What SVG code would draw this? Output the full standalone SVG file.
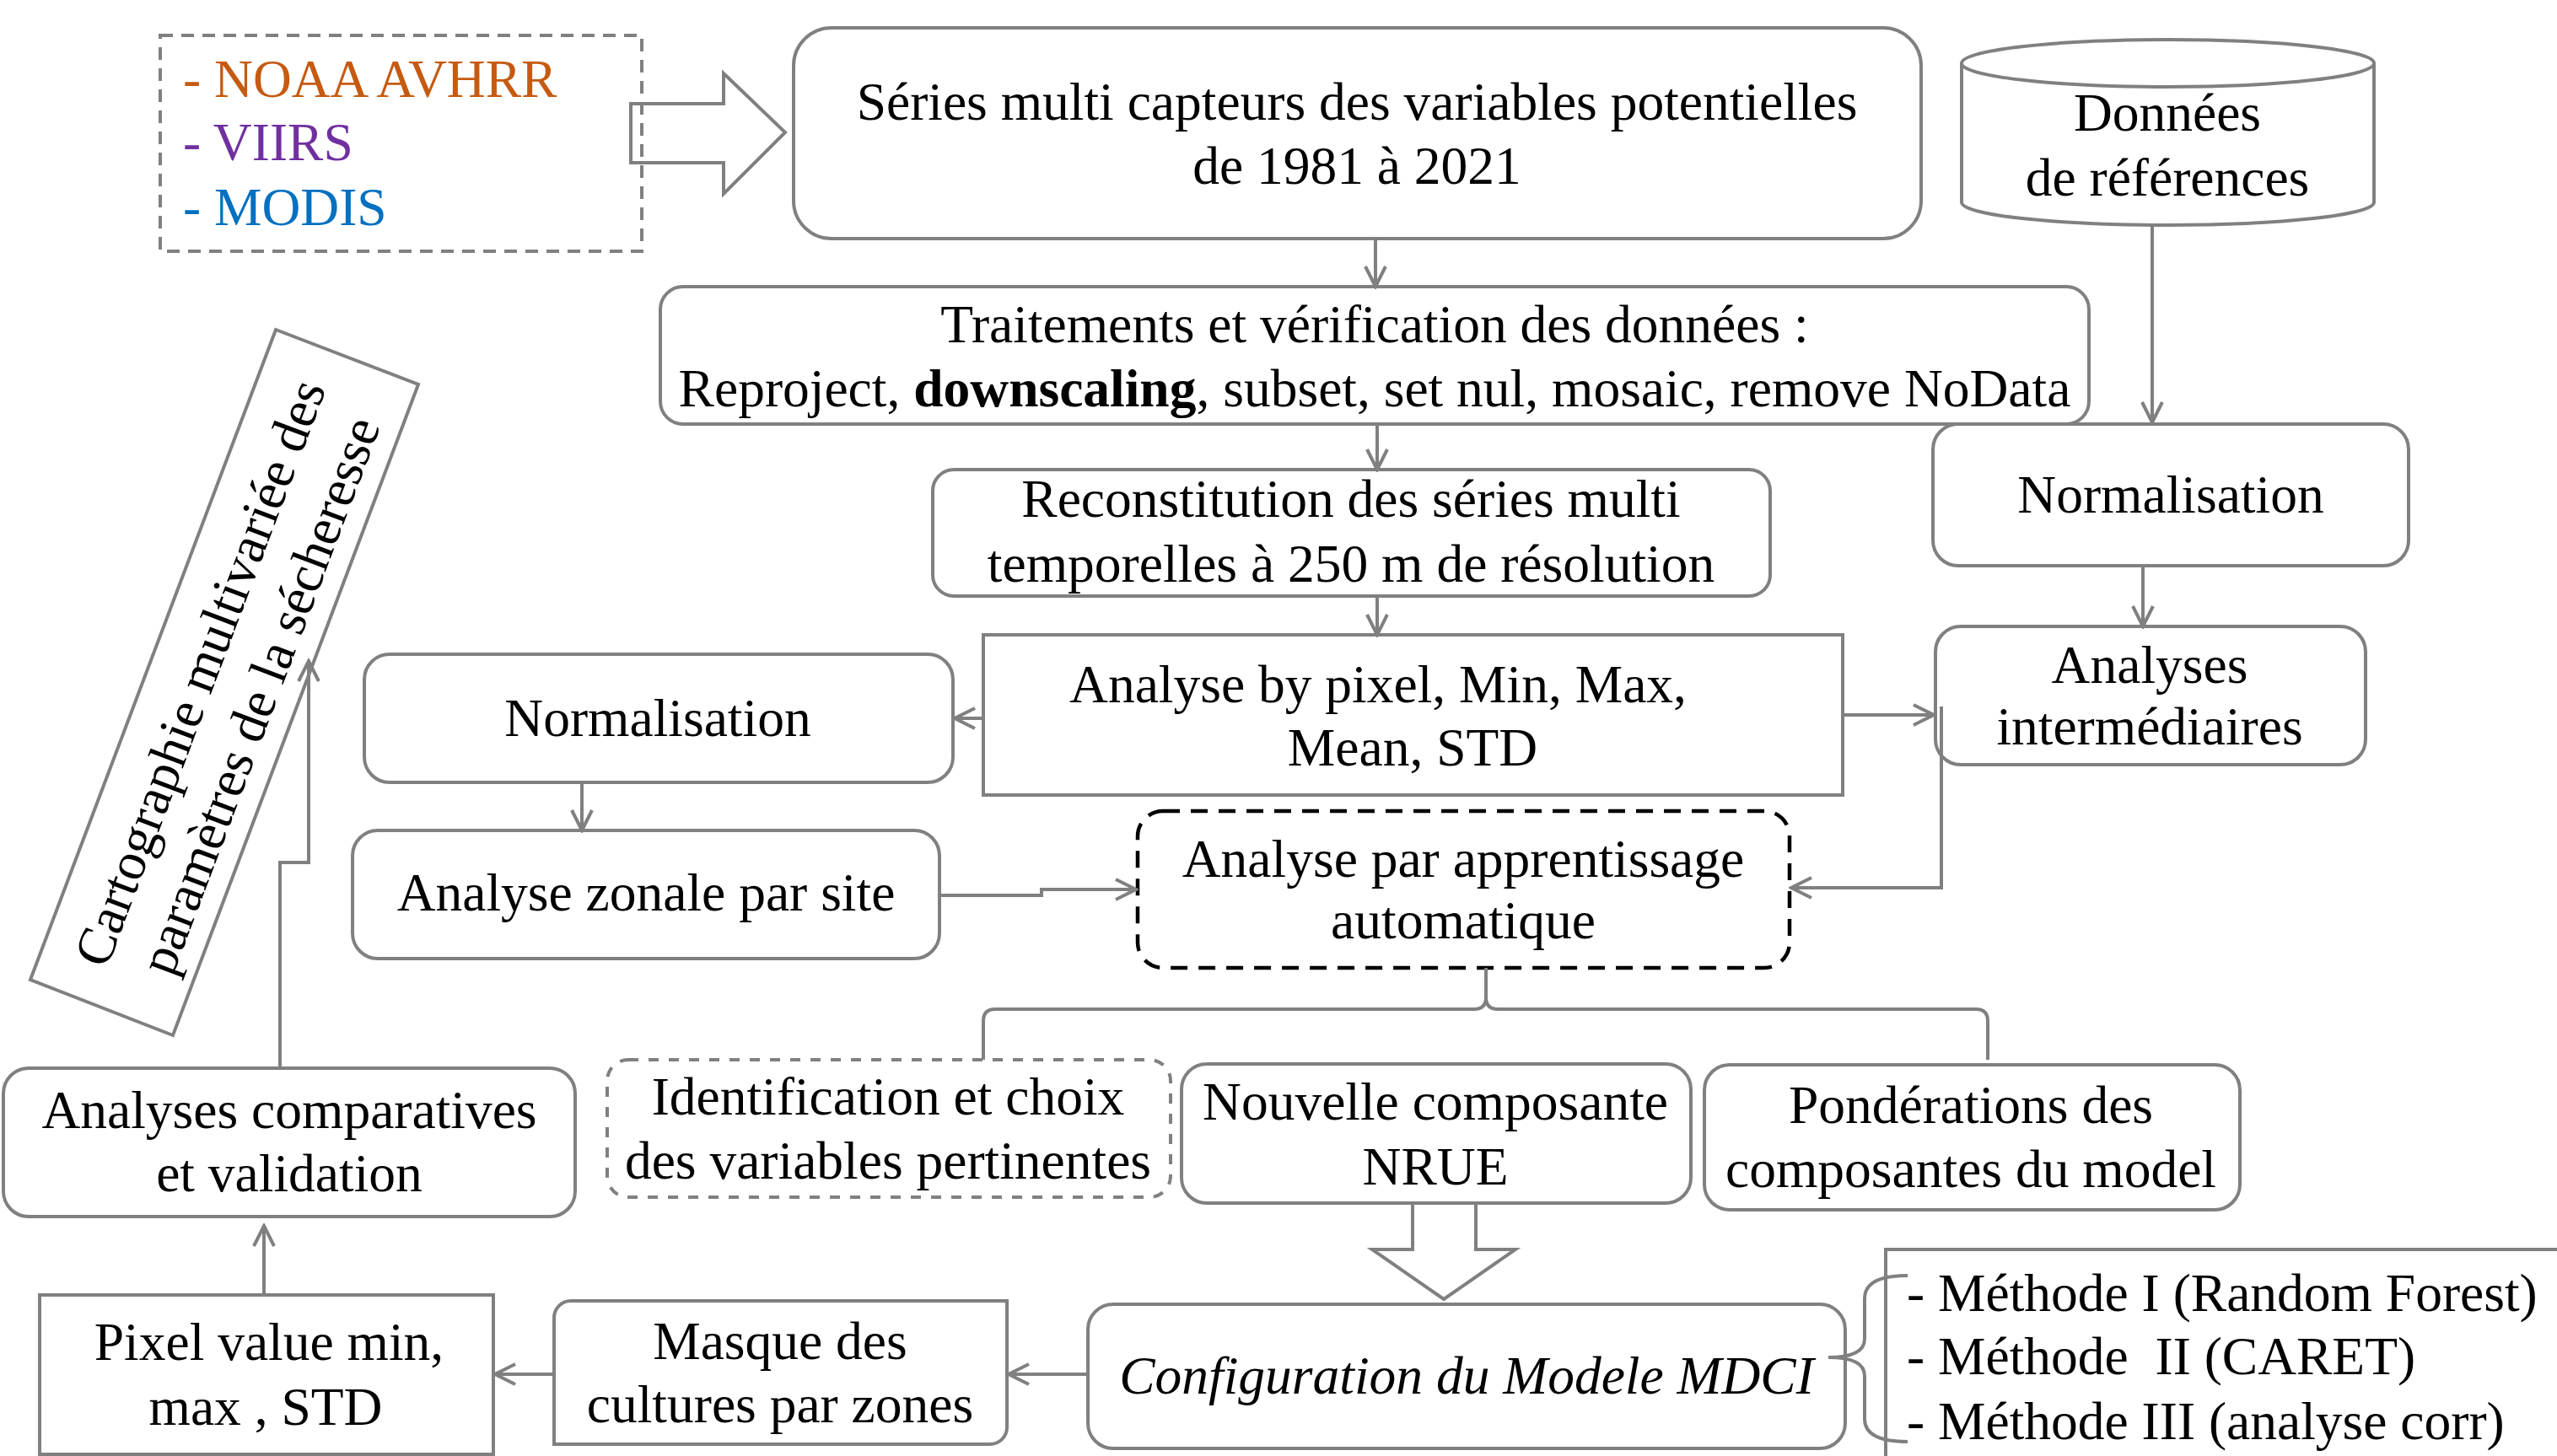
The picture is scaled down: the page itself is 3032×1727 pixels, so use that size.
<svg xmlns="http://www.w3.org/2000/svg" width="3032" height="1727" viewBox="0 0 3032 1727">
<style>
text{font-family:"Liberation Serif","Times New Roman",serif;font-size:63.5px;fill:#000}
.c{text-anchor:middle}
.box{fill:#fff;stroke:#808080;stroke-width:4}
.ln{fill:none;stroke:#808080;stroke-width:4}
.con{fill:none;stroke:#808080;stroke-width:4;marker-end:url(#arr)}
</style>
<defs>
<marker id="arr" viewBox="0 0 30 30" refX="27" refY="15" markerWidth="30" markerHeight="30" markerUnits="userSpaceOnUse" orient="auto">
<path d="M3,3 L27,15 L3,27" fill="none" stroke="#808080" stroke-width="4"/>
</marker>
</defs>
<rect width="3032" height="1727" fill="#fff"/>

<g id="sources">
<polygon points="748,123 858,123 858,87 931,157 858,230 858,193 748,193" fill="none" stroke="#808080" stroke-width="4"/>
<rect x="190" y="42" width="571" height="256" fill="none" stroke="#808080" stroke-width="4" stroke-dasharray="15 10"/>
<text x="217" y="115" style="fill:#C55A11">- NOAA AVHRR</text>
<text x="217" y="190" style="fill:#7030A0">- VIIRS</text>
<text x="217" y="267" style="fill:#0070C0">- MODIS</text>
</g>

<g id="series">
<rect class="box" x="941" y="33" width="1337" height="250" rx="45"/>
<text class="c" x="1609" y="142">Séries multi capteurs des variables potentielles</text>
<text class="c" x="1609" y="218">de 1981 à 2021</text>
</g>

<g id="donnees">
<path class="box" d="M2326,75 L2326,240 A244.5,27 0 0 0 2815,240 L2815,75 A244.5,28 0 0 0 2326,75 Z"/>
<path class="ln" d="M2326,75 A244.5,28 0 0 0 2815,75"/>
<text class="c" x="2570" y="155">Données</text>
<text class="c" x="2570" y="232">de références</text>
</g>

<g id="traitements">
<rect class="box" x="783" y="340" width="1694" height="163" rx="27"/>
<text class="c" x="1630" y="406">Traitements et vérification des données :</text>
<text class="c" x="1630" y="482">Reproject, <tspan font-weight="bold">downscaling</tspan>, subset, set nul, mosaic, remove NoData</text>
</g>

<g id="normalisation-ref">
<rect class="box" x="2292" y="503" width="564" height="168" rx="30"/>
<text class="c" x="2574" y="608">Normalisation</text>
</g>

<g id="reconstitution">
<rect class="box" x="1106" y="557" width="993" height="150" rx="25"/>
<text class="c" x="1602" y="613">Reconstitution des séries multi</text>
<text class="c" x="1602" y="690">temporelles à 250 m de résolution</text>
</g>

<g id="analyses-intermediaires">
<rect class="box" x="2295" y="743" width="510" height="164" rx="30"/>
<text class="c" x="2549" y="810">Analyses</text>
<text class="c" x="2549" y="883">intermédiaires</text>
</g>

<g id="analyse-pixel">
<rect class="box" x="1166" y="753" width="1019" height="190"/>
<text class="c" x="1634" y="833">Analyse by pixel, Min, Max,</text>
<text class="c" x="1675" y="908">Mean, STD</text>
</g>

<g id="normalisation">
<rect class="box" x="432" y="776" width="698" height="152" rx="30"/>
<text class="c" x="780" y="873">Normalisation</text>
</g>

<g id="analyse-zonale">
<rect class="box" x="418" y="985" width="696" height="152" rx="30"/>
<text class="c" x="766" y="1080">Analyse zonale par site</text>
</g>

<g id="apprentissage">
<rect x="1349" y="962" width="773" height="186" rx="30" fill="#fff" stroke="#000" stroke-width="4.5" stroke-dasharray="20 13"/>
<text class="c" x="1735" y="1040">Analyse par apprentissage</text>
<text class="c" x="1735" y="1113">automatique</text>
</g>

<g id="identification">
<rect x="720" y="1257" width="668" height="163" rx="25" fill="#fff" stroke="#808080" stroke-width="4" stroke-dasharray="12 12"/>
<text class="c" x="1053" y="1322">Identification et choix</text>
<text class="c" x="1053" y="1398">des variables pertinentes</text>
</g>

<g id="nouvelle-composante">
<rect class="box" x="1401" y="1262" width="604" height="165" rx="30"/>
<text class="c" x="1702" y="1328">Nouvelle composante</text>
<text class="c" x="1702" y="1405">NRUE</text>
</g>

<g id="ponderations">
<rect class="box" x="2021" y="1263" width="635" height="172" rx="30"/>
<text class="c" x="2337" y="1332">Pondérations des</text>
<text class="c" x="2337" y="1408">composantes du model</text>
</g>

<g id="configuration">
<rect class="box" x="1290" y="1547" width="898" height="171" rx="30"/>
<text class="c" x="1739" y="1653" font-style="italic">Configuration du Modele MDCI</text>
</g>

<g id="methodes">
<path class="ln" d="M3032,1482 L2236,1482 L2236,1727"/>
<path class="ln" d="M2262,1513 Q2211,1513 2211,1540 L2211,1588 Q2211,1610 2168,1610 Q2211,1610 2211,1632 L2211,1683 Q2211,1710 2262,1710"/>
<text x="2261" y="1555">- Méthode I (Random Forest)</text>
<text x="2261" y="1630" xml:space="preserve">- Méthode  II (CARET)</text>
<text x="2261" y="1707">- Méthode III (analyse corr)</text>
</g>

<g id="masque">
<path class="box" d="M677,1543 L1194,1543 L1194,1693 A20,20 0 0 1 1174,1713 L657,1713 L657,1563 A20,20 0 0 1 677,1543 Z"/>
<text class="c" x="925" y="1612">Masque des</text>
<text class="c" x="925" y="1687">cultures par zones</text>
</g>

<g id="pixel-value">
<rect class="box" x="47" y="1536" width="538" height="189"/>
<text class="c" x="319" y="1613">Pixel value min,</text>
<text class="c" x="315" y="1690">max , STD</text>
</g>

<g id="analyses-comparatives">
<rect class="box" x="4" y="1267" width="678" height="176" rx="30"/>
<text class="c" x="343" y="1338">Analyses comparatives</text>
<text class="c" x="343" y="1413">et validation</text>
</g>

<g id="cartographie">
<polygon class="box" points="327,391 496,456 205,1228 36,1162"/>
<g transform="translate(266,809) rotate(-69.3)">
<text class="c" x="0" y="-10">Cartographie multivariée des</text>
<text class="c" x="0" y="66">paramètres de la sécheresse</text>
</g>
</g>

<g id="connectors">
<path class="con" d="M1631,283 L1631,340"/>
<path class="con" d="M2552,267 L2552,501"/>
<path class="con" d="M1633,503 L1633,557"/>
<path class="con" d="M1633,707 L1633,753"/>
<path class="con" d="M2541,671 L2541,743"/>
<path class="con" d="M2185,848 L2293,848"/>
<path class="con" d="M1166,852 L1132,852"/>
<path class="con" d="M690,928 L690,985"/>
<path class="con" d="M1114,1062 L1235,1062 L1235,1055 L1347,1055"/>
<path class="con" d="M2302,838 L2302,1053 L2124,1053"/>
<path class="ln" d="M1166,1257 L1166,1211 Q1166,1197 1180,1197 L1748,1197 Q1762,1197 1762,1183 L1762,1148 M1762,1183 Q1762,1197 1776,1197 L2343,1197 Q2357,1197 2357,1211 L2357,1257"/>
<polygon points="1675,1427 1750,1427 1750,1482 1797,1482 1712,1541 1627,1482 1675,1482" fill="#fff" stroke="#808080" stroke-width="4"/>
<path class="con" d="M1290,1630 L1196,1630"/>
<path class="con" d="M657,1630 L587,1630"/>
<path class="con" d="M313,1536 L313,1454"/>
<path class="con" d="M332,1267 L332,1023 L366,1023 L366,784"/>
</g>
</svg>
